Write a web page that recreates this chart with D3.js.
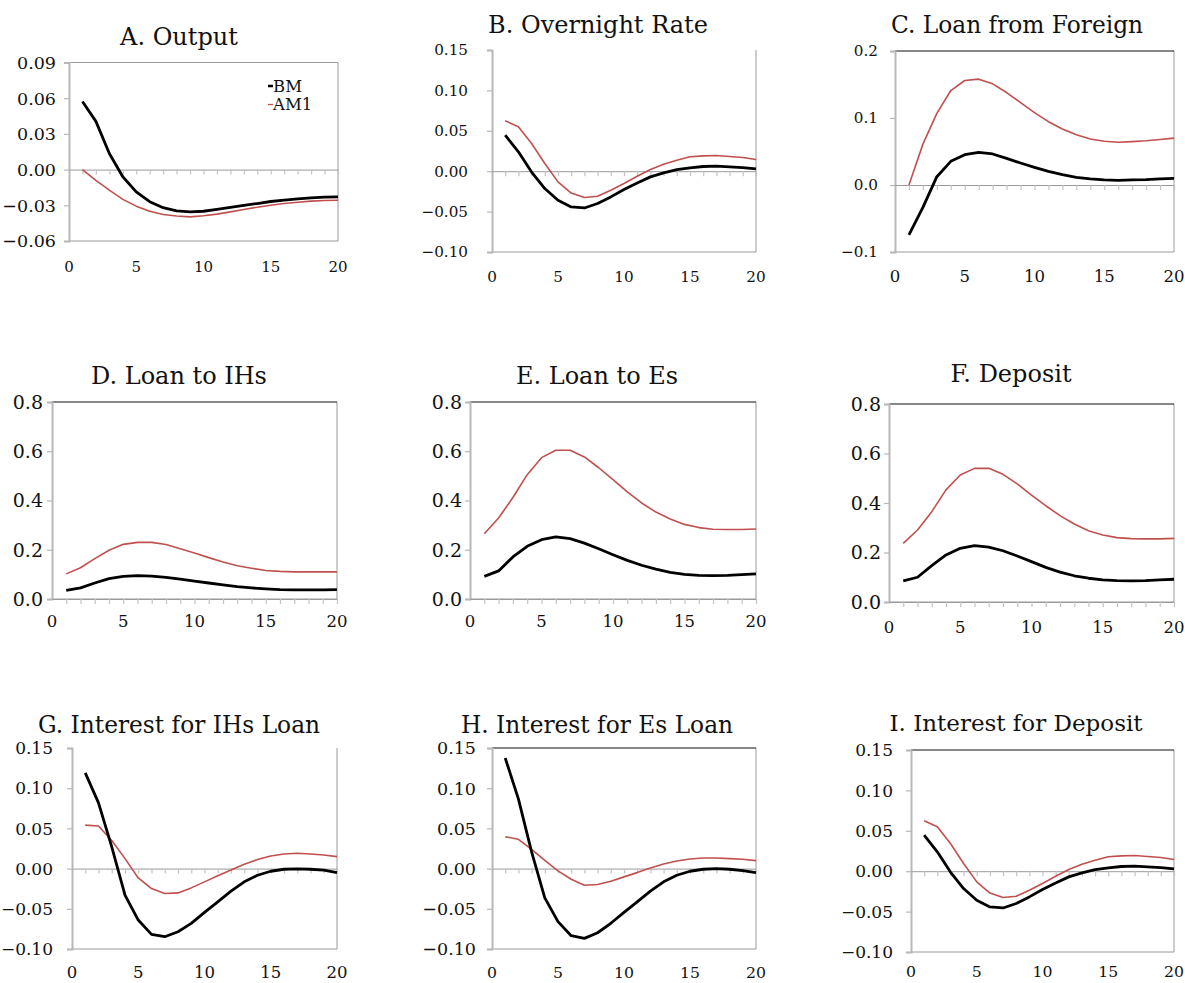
<!DOCTYPE html>
<html>
<head>
<meta charset="utf-8">
<script src="https://cdn.jsdelivr.net/npm/d3@7"></script>
<style>
  html, body { margin: 0; padding: 0; background: #fff; }
  svg { display: block; font-family: "DejaVu Serif", "Liberation Serif", serif; }
</style>
</head>
<body>
<svg id="chart" width="1185" height="983"></svg>
<script>
// ---------- data ----------
const periods = [1,2,3,4,5,6,7,8,9,10,11,12,13,14,15,16,17,18,19,20];
const xTickLabels = [0, 5, 10, 15, 20];
const seriesNames = ["BM", "AM1"];
const titles = ["A. Output", "B. Overnight Rate", "C. Loan from Foreign",
                "D. Loan to IHs", "E. Loan to Es", "F. Deposit",
                "G. Interest for IHs Loan", "H. Interest for Es Loan", "I. Interest for Deposit"];

const outputBM   = [0.0573,0.0405,0.0135,-0.0060,-0.0187,-0.0270,-0.0320,-0.0346,-0.0355,-0.0350,-0.0335,-0.0318,-0.0300,-0.0285,-0.0268,-0.0257,-0.0246,-0.0238,-0.0232,-0.0229];
const outputAM1  = [0.0000,-0.0090,-0.0173,-0.0250,-0.0307,-0.0350,-0.0377,-0.0390,-0.0397,-0.0388,-0.0374,-0.0355,-0.0335,-0.0316,-0.0299,-0.0285,-0.0274,-0.0265,-0.0260,-0.0257];

const overnightBM  = [0.0446,0.0240,-0.0010,-0.0215,-0.0360,-0.0442,-0.0455,-0.0400,-0.0318,-0.0227,-0.0145,-0.0070,-0.0020,0.0020,0.0040,0.0058,0.0062,0.0054,0.0045,0.0030];
const overnightAM1 = [0.0624,0.0550,0.0343,0.0095,-0.0132,-0.0270,-0.0326,-0.0310,-0.0236,-0.0153,-0.0062,0.0020,0.0087,0.0136,0.0178,0.0190,0.0194,0.0182,0.0170,0.0145];

const foreignBM  = [-0.0746,-0.0333,0.0124,0.0353,0.0453,0.0488,0.0463,0.0398,0.0328,0.0264,0.0204,0.0154,0.0114,0.0090,0.0075,0.0070,0.0075,0.0080,0.0090,0.0100];
const foreignAM1 = [0.0000,0.0610,0.1070,0.1410,0.1560,0.1580,0.1510,0.1380,0.1230,0.1080,0.0945,0.0836,0.0750,0.0687,0.0652,0.0637,0.0647,0.0660,0.0680,0.0700];

const ihLoanBM  = [0.035,0.045,0.065,0.083,0.092,0.095,0.093,0.088,0.081,0.073,0.065,0.057,0.050,0.045,0.041,0.038,0.037,0.037,0.037,0.038];
const ihLoanAM1 = [0.102,0.127,0.164,0.198,0.222,0.230,0.230,0.221,0.204,0.187,0.168,0.150,0.135,0.125,0.116,0.112,0.110,0.110,0.110,0.110];

const esLoanBM  = [0.092,0.114,0.171,0.214,0.241,0.252,0.245,0.227,0.204,0.180,0.157,0.137,0.121,0.108,0.100,0.096,0.095,0.096,0.099,0.102];
const esLoanAM1 = [0.265,0.329,0.412,0.505,0.574,0.604,0.604,0.577,0.533,0.485,0.435,0.390,0.353,0.325,0.303,0.290,0.283,0.282,0.282,0.284];

const depositBM  = [0.085,0.100,0.147,0.190,0.217,0.228,0.222,0.207,0.186,0.163,0.140,0.121,0.106,0.096,0.089,0.086,0.085,0.086,0.089,0.092];
const depositAM1 = [0.237,0.291,0.365,0.453,0.513,0.540,0.540,0.516,0.477,0.432,0.389,0.349,0.315,0.288,0.271,0.260,0.256,0.255,0.255,0.257];

const ihRateBM  = [0.1190,0.0818,0.0269,-0.0330,-0.0640,-0.0818,-0.0847,-0.0785,-0.0682,-0.0545,-0.0413,-0.0280,-0.0165,-0.0083,-0.0033,-0.0008,-0.0004,-0.0008,-0.0020,-0.0050];
const ihRateAM1 = [0.0541,0.0529,0.0350,0.0124,-0.0116,-0.0248,-0.0310,-0.0302,-0.0240,-0.0165,-0.0090,-0.0017,0.0054,0.0112,0.0157,0.0182,0.0190,0.0182,0.0170,0.0149];

const esRateBM  = [0.1376,0.0868,0.0207,-0.0364,-0.0660,-0.0835,-0.0868,-0.0798,-0.0680,-0.0545,-0.0413,-0.0280,-0.0165,-0.0083,-0.0033,-0.0008,0.0000,-0.0008,-0.0025,-0.0050];
const esRateAM1 = [0.0397,0.0364,0.0240,0.0103,-0.0029,-0.0132,-0.0207,-0.0198,-0.0157,-0.0103,-0.0050,0.0008,0.0058,0.0095,0.0120,0.0132,0.0132,0.0124,0.0116,0.0099];

const depRateBM  = [0.0446,0.0240,-0.0010,-0.0215,-0.0360,-0.0442,-0.0455,-0.0400,-0.0318,-0.0227,-0.0145,-0.0070,-0.0020,0.0020,0.0040,0.0058,0.0062,0.0054,0.0045,0.0030];
const depRateAM1 = [0.0624,0.0550,0.0343,0.0095,-0.0132,-0.0270,-0.0326,-0.0310,-0.0236,-0.0153,-0.0062,0.0020,0.0087,0.0136,0.0178,0.0190,0.0194,0.0182,0.0170,0.0145];

const yTicksA = [-0.06,-0.03,0.00,0.03,0.06,0.09];
const yTicksRate = [-0.10,-0.05,0.00,0.05,0.10,0.15];
const yTicksC = [-0.1,0.0,0.1,0.2];
const yTicksLoan = [0.0,0.2,0.4,0.6,0.8];

// ---------- layout (positions & styles) ----------
const layout = [
  {L:69,  R:338,  T:62.5, B:241, lab:56,  tx:179,  ty:45,  xy:272, top:"#9a9a9a", dec:2, ys:17.5, xs:15,   ts:24},
  {L:492, R:756,  T:50,   B:252, lab:468, tx:598,  ty:33,  xy:282, top:null,      dec:2, ys:15.2, xs:15.2, ts:24},
  {L:895, R:1174, T:51,   B:252, lab:878, tx:1017, ty:33,  xy:282, top:"#111",    dec:1, ys:15.2, xs:16.5, ts:23.3},
  {L:52,  R:337,  T:402,  B:599, lab:43,  tx:179,  ty:384, xy:627, top:"#111",    dec:1, ys:19,   xs:16.5, ts:24},
  {L:470, R:756,  T:402,  B:599, lab:462, tx:597,  ty:384, xy:627, top:"#111",    dec:1, ys:19,   xs:16.5, ts:24},
  {L:889, R:1174, T:404,  B:602, lab:881, tx:1011, ty:382, xy:633, top:"#111",    dec:1, ys:19,   xs:16.5, ts:24},
  {L:72,  R:337,  T:748,  B:949, lab:53,  tx:179,  ty:733, xy:978, top:null,      dec:2, ys:17,   xs:16.5, ts:23.3},
  {L:492, R:756,  T:748,  B:949, lab:476, tx:597,  ty:733, xy:978, top:"#111",    dec:2, ys:17.5, xs:15.7, ts:23.3},
  {L:911, R:1174, T:750,  B:952, lab:893, tx:1016, ty:731, xy:977, top:"#111",    dec:2, ys:17,   xs:15.7, ts:23}
];

const panelData = [
  {bm: outputBM,    am: outputAM1,    ticks: yTicksA},
  {bm: overnightBM, am: overnightAM1, ticks: yTicksRate},
  {bm: foreignBM,   am: foreignAM1,   ticks: yTicksC},
  {bm: ihLoanBM,    am: ihLoanAM1,    ticks: yTicksLoan},
  {bm: esLoanBM,    am: esLoanAM1,    ticks: yTicksLoan},
  {bm: depositBM,   am: depositAM1,   ticks: yTicksLoan},
  {bm: ihRateBM,    am: ihRateAM1,    ticks: yTicksRate},
  {bm: esRateBM,    am: esRateAM1,    ticks: yTicksRate},
  {bm: depRateBM,   am: depRateAM1,   ticks: yTicksRate}
];

const colors = {BM: "#000000", AM1: "#C0504D"};
const axisGray = "#b8b8b8";

const svg = d3.select("#chart");

panelData.forEach((p, i) => {
  const lo = layout[i];
  const g = svg.append("g");
  const x = d3.scaleLinear().domain([0, 20]).range([lo.L, lo.R]);
  const y = d3.scaleLinear().domain(d3.extent(p.ticks)).range([lo.B, lo.T]);
  const fmt = d3.format("." + lo.dec + "f");

  // plot frame: right & bottom gray, top optional
  g.append("line").attr("x1", lo.R).attr("x2", lo.R).attr("y1", lo.T).attr("y2", lo.B)
    .attr("stroke", "#9a9a9a").attr("stroke-width", 1);
  g.append("line").attr("x1", lo.L).attr("x2", lo.R).attr("y1", lo.B).attr("y2", lo.B)
    .attr("stroke", "#9a9a9a").attr("stroke-width", 1);
  if (lo.top) {
    g.append("line").attr("x1", lo.L).attr("x2", lo.R).attr("y1", lo.T).attr("y2", lo.T)
      .attr("stroke", lo.top).attr("stroke-width", 1.2);
  }

  // y axis (left) with outward ticks
  const yAxis = d3.axisLeft(y).tickValues(p.ticks).tickSize(5).tickFormat("");
  const ya = g.append("g").attr("transform", `translate(${lo.L},0)`).call(yAxis);
  ya.select(".domain").attr("stroke", axisGray).attr("stroke-width", 2);
  ya.selectAll(".tick line").attr("stroke", axisGray).attr("stroke-width", 1.2);

  // y tick labels
  g.selectAll(".ylab").data(p.ticks).enter().append("text")
    .attr("x", lo.lab).attr("y", d => y(d) + lo.ys * 0.36)
    .attr("text-anchor", "end").attr("font-size", lo.ys).attr("fill", "#111")
    .text(d => fmt(d));

  // zero line with minor ticks at each period
  const xAxis = d3.axisBottom(x).tickValues(periods).tickSize(5).tickFormat("").tickSizeOuter(0);
  const xa = g.append("g").attr("transform", `translate(0,${y(0)})`).call(xAxis);
  xa.select(".domain").attr("stroke", "#9a9a9a").attr("stroke-width", 1);
  xa.selectAll(".tick line").attr("stroke", "#c4c4c4").attr("stroke-width", 1.2);

  // x tick labels below plot
  g.selectAll(".xlab").data(xTickLabels).enter().append("text")
    .attr("x", d => x(d)).attr("y", lo.xy)
    .attr("text-anchor", "middle").attr("font-size", lo.xs).attr("fill", "#111")
    .text(d => d);

  // lines
  const line = d3.line().x((d, k) => x(periods[k])).y(d => y(d));
  g.append("path").datum(p.am).attr("d", line).attr("fill", "none")
    .attr("stroke", colors.AM1).attr("stroke-width", 1.6).attr("stroke-linejoin", "round");
  g.append("path").datum(p.bm).attr("d", line).attr("fill", "none")
    .attr("stroke", colors.BM).attr("stroke-width", 2.8).attr("stroke-linejoin", "round");

  // title
  g.append("text").attr("x", lo.tx).attr("y", lo.ty).attr("text-anchor", "middle")
    .attr("font-size", lo.ts).attr("fill", "#111").text(titles[i]);

  // legend in first panel
  if (i === 0) {
    const leg = g.append("g");
    seriesNames.forEach((s, k) => {
      const ly = 86 + k * 18.5;
      leg.append("line").attr("x1", 268).attr("x2", 273).attr("y1", ly).attr("y2", ly)
        .attr("stroke", colors[s]).attr("stroke-width", s === "BM" ? 2.5 : 1.3);
      leg.append("text").attr("x", 273).attr("y", ly + 5.5).attr("font-size", 16.5)
        .attr("fill", "#111").text(s);
    });
  }
});
</script>
</body>
</html>
